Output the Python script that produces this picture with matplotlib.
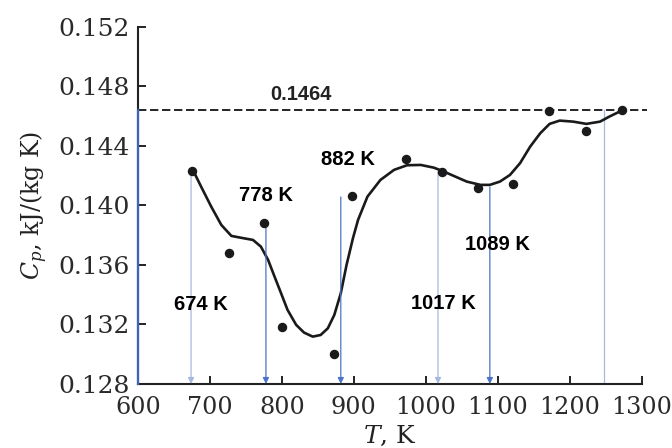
import matplotlib
matplotlib.use("Agg")
import matplotlib.pyplot as plt

# measured points
T_pts = [676, 727, 776, 800, 872, 898, 973, 1022, 1072, 1121, 1171, 1222, 1272]
cp_pts = [0.1423, 0.1368, 0.1388, 0.1318, 0.1300, 0.1406, 0.1431, 0.14225,
          0.1412, 0.14145, 0.14635, 0.1450, 0.1464]

# smoothed curve
T_fit = [677, 688, 702, 716, 730, 744, 760, 771, 781, 790, 799, 808, 820,
         831, 843, 854, 864, 873, 882, 890, 899, 906, 919, 937, 956, 974,
         993, 1011, 1023, 1039, 1057, 1076, 1089, 1103, 1117, 1131, 1145,
         1159, 1172, 1186, 1205, 1223, 1242, 1255, 1272]
cp_fit = [0.14234, 0.14126, 0.13992, 0.13869, 0.13795, 0.13782, 0.13768,
          0.13723, 0.13634, 0.13521, 0.13410, 0.13298, 0.13197, 0.13145,
          0.13118, 0.13129, 0.13174, 0.13264, 0.13410, 0.13600, 0.13782,
          0.13903, 0.14059, 0.14171, 0.14239, 0.14270, 0.14272, 0.14254,
          0.14232, 0.14198, 0.14160, 0.14138, 0.14138, 0.14160, 0.14205,
          0.14284, 0.14395, 0.14485, 0.14548, 0.14570, 0.14563, 0.14548,
          0.14563, 0.14597, 0.14637]

cp_max = 0.1464
marks = [674, 778, 882, 1017, 1089]
mark_tops = [0.1423, 0.13882, 0.14057, 0.14225, 0.14124]
mark_colors = ["#a7b8e0", "#4a74c9", "#4a74c9", "#a7b8e0", "#4a74c9"]
mark_labels = ["674 K", "778 K", "882 K", "1017 K", "1089 K"]
label_pos = [(687, 0.13334), (778, 0.14064), (892, 0.14306),
             (1024, 0.13338), (1100, 0.13738)]
end_line = 1248

plt.rcParams["mathtext.fontset"] = "dejavuserif"

fig = plt.figure(figsize=(6.72, 4.48), dpi=100)
ax = fig.add_axes([0.205, 0.143, 0.75, 0.797])

ax.plot(T_fit, cp_fit, color="#1a1a1a", lw=1.9, zorder=3)
ax.plot(T_pts, cp_pts, "o", color="#1a1a1a", ms=5.8, zorder=4)

ax.axhline(cp_max, xmin=0, xmax=1.01, color="black", lw=1.2, ls=(0, (5, 2.2)),
           clip_on=False, zorder=2)
ax.text(827, 0.1468, "0.1464", ha="center", va="bottom", fontsize=14.5,
        family="Liberation Sans", fontweight="bold", color="#222222")

for x, top, c in zip(marks, mark_tops, mark_colors):
    ax.annotate("", xy=(x, 0.128), xytext=(x, top),
                arrowprops=dict(arrowstyle="-|>", color=c, lw=0.9,
                                mutation_scale=9, shrinkA=0, shrinkB=0))
ax.plot([end_line, end_line], [0.128, cp_max], color="#a7b8e0", lw=0.9)

for (x, y), s in zip(label_pos, mark_labels):
    ax.text(x, y, s, ha="center", va="center", fontsize=14.5,
            family="Liberation Sans", fontweight="bold", color="black")

# blue overlay on lower part of y axis
ax.plot([600, 600], [0.128, cp_max], color="#3f63b8", lw=1.6, clip_on=False, zorder=5)

ax.set_xlim(600, 1300)
ax.set_ylim(0.128, 0.152)
ax.set_xticks(range(600, 1301, 100))
ax.set_yticks([0.128, 0.132, 0.136, 0.140, 0.144, 0.148, 0.152])
ax.set_yticklabels(["0.128", "0.132", "0.136", "0.140", "0.144", "0.148", "0.152"])

for side in ["top", "right"]:
    ax.spines[side].set_visible(False)
ax.spines["left"].set_linewidth(1.5)
ax.spines["bottom"].set_linewidth(1.5)
ax.spines["left"].set_color("#222222")
ax.spines["bottom"].set_color("#222222")

ax.tick_params(direction="in", length=6, width=1.4, colors="#222222")
ax.tick_params(axis="x", pad=9)
ax.tick_params(axis="y", pad=6)
for lab in ax.get_yticklabels():
    lab.set_family("DejaVu Serif")
    lab.set_fontsize(18)
    lab.set_color("#2a2a2a")
for lab in ax.get_xticklabels():
    lab.set_family("DejaVu Serif")
    lab.set_fontsize(17.2)
    lab.set_color("#2a2a2a")

ax.set_xlabel("$T$, K", fontsize=18, family="DejaVu Serif", labelpad=3, color="#222222")
ax.set_ylabel("$C_p$, kJ/(kg K)", fontsize=17, family="DejaVu Serif", labelpad=6, color="#222222")

fig.savefig("out.png", dpi=100)
